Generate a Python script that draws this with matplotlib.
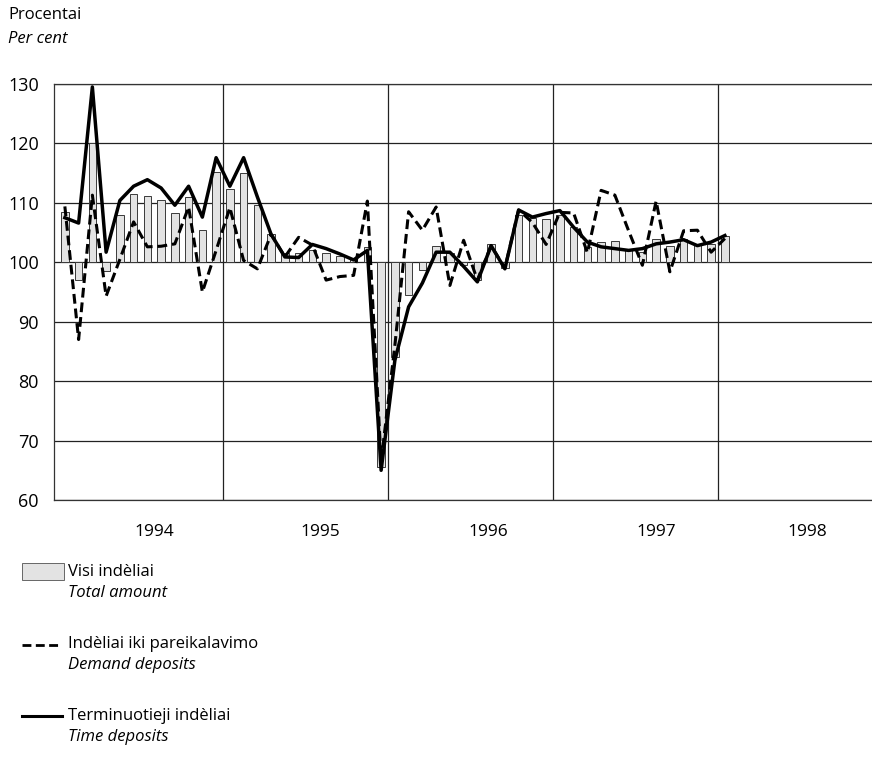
import numpy as np
import matplotlib
matplotlib.use("Agg")
import matplotlib.pyplot as plt
from matplotlib.patches import Rectangle
from matplotlib.lines import Line2D

plt.rcParams['font.family'] = ['Open Sans', 'DejaVu Sans']

# Menesiai nuo 1994 sausio iki 1998 sausio
years = ['1994', '1995', '1996', '1997', '1998']

# Visi indeliai (stulpeliai)
total = [108.4, 97.0, 120.0, 98.5, 108.0, 111.5, 111.2, 110.4, 108.3, 111.0, 105.5, 115.2,
         112.4, 115.0, 109.6, 104.8, 101.5, 101.5, 102.0, 101.5, 101.0, 100.5, 102.5, 65.5,
         84.0, 94.5, 98.7, 102.7, 101.5, 99.5, 97.0, 103.0, 99.0, 108.0, 107.5, 107.2,
         108.0, 106.0, 102.6, 103.4, 103.5, 102.0, 101.8, 104.0, 102.8, 104.0, 103.0, 103.0,
         104.5]

# Indeliai iki pareikalavimo (punktyras)
demand = [109.4, 87.0, 111.3, 94.3, 100.5, 106.8, 102.6, 102.7, 103.1, 109.3, 95.0, 102.0,
          109.2, 100.3, 98.9, 104.7, 100.9, 104.2, 102.9, 97.0, 97.6, 97.8, 110.3, 66.5,
          86.0, 108.5, 105.4, 109.3, 96.1, 103.7, 97.0, 102.8, 99.0, 108.8, 106.7, 103.0,
          108.4, 108.3, 101.6, 112.1, 111.3, 105.3, 99.5, 110.3, 98.4, 105.3, 105.4, 101.7,
          104.0]

# Terminuotieji indeliai (isistisine linija)
time_dep = [107.5, 106.6, 129.5, 101.7, 110.4, 112.8, 113.9, 112.5, 109.6, 112.8, 107.6, 117.6,
            112.8, 117.6, 111.0, 104.7, 100.9, 100.8, 103.0, 102.3, 101.4, 100.4, 102.0, 65.0,
            83.5, 92.5, 96.5, 101.7, 101.7, 99.3, 96.7, 102.8, 98.9, 108.8, 107.6, 108.2,
            108.7, 105.9, 103.4, 102.6, 102.3, 102.0, 102.3, 103.1, 103.4, 103.8, 102.8, 103.4,
            104.5]

W, H = 872, 760
fig = plt.figure(figsize=(W / 100, H / 100), dpi=100)
ax = fig.add_axes([54 / W, 1 - 500 / H, 1 - 54 / W, (500 - 84) / H])

x = np.arange(len(total))
total_arr = np.array(total)
ax.bar(x, total_arr - 100, bottom=100, width=0.55, color='#e3e3e3',
       edgecolor='#3a3a3a', linewidth=0.7, zorder=2)
ax.plot(x, demand, color='black', lw=2.2, dashes=(3.2, 1.6), zorder=3)
ax.plot(x, time_dep, color='black', lw=2.5, zorder=4)

ax.set_xlim(-0.79, 58.7)
ax.set_ylim(60, 130)
ax.set_yticks(range(60, 131, 10))
ax.yaxis.grid(True, color='#222222', lw=0.9, zorder=1)
for b in [11.5, 23.5, 35.5, 47.5]:
    ax.axvline(b, color='#222222', lw=0.9, zorder=1)

# metu pavadinimai po asimi
ax.set_xticks([6.5, 18.6, 30.8, 43.0, 54.0])
ax.set_xticklabels(years)
ax.tick_params(axis='x', length=0, pad=17, labelsize=12.5)
ax.tick_params(axis='y', length=0, pad=11, labelsize=13)
for s in ['left', 'top', 'bottom']:
    ax.spines[s].set_color('#333333')
    ax.spines[s].set_linewidth(0.9)
ax.spines['right'].set_visible(False)

fig.text(8 / W, 1 - 15 / H, 'Procentai', fontsize=12, va='center')
fig.text(8 / W, 1 - 39 / H, 'Per cent', fontsize=12, style='italic', va='center')

# Legenda
fig.add_artist(Rectangle((22 / W, 1 - 580 / H), 42 / W, 17 / H, transform=fig.transFigure,
                         facecolor='#e3e3e3', edgecolor='#666666', lw=0.7))
fig.add_artist(Line2D([22 / W, 62 / W], [1 - 645 / H] * 2, transform=fig.transFigure,
                      color='black', lw=2.0, dashes=(3.2, 1.6)))
fig.add_artist(Line2D([22 / W, 62 / W], [1 - 716 / H] * 2, transform=fig.transFigure,
                      color='black', lw=2.2))

legend_rows = [('Visi indèliai', 'Total amount', 572),
               ('Indèliai iki pareikalavimo', 'Demand deposits', 644),
               ('Terminuotieji indèliai', 'Time deposits', 716)]
for lt, en, yy in legend_rows:
    fig.text(68 / W, 1 - yy / H, lt, fontsize=12, va='center')
    fig.text(68 / W, 1 - (yy + 21) / H, en, fontsize=12, style='italic', va='center')

fig.savefig('out.png', dpi=100)
